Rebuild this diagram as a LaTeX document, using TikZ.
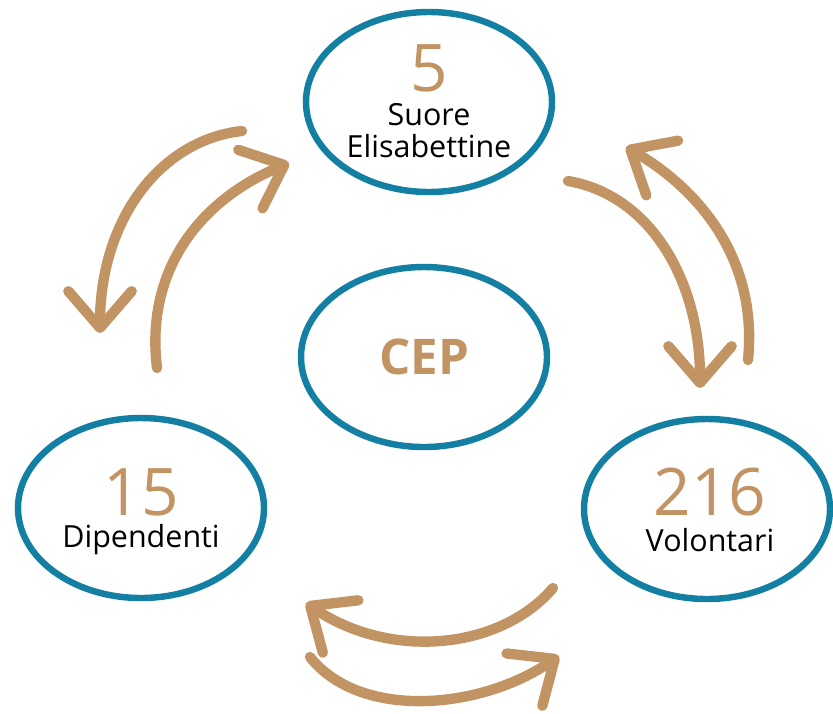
\documentclass[tikz,border=0pt]{standalone}
\usepackage{fontspec}
\setmainfont{Open Sans}
\usetikzlibrary{positioning, shapes, arrows.meta}

\definecolor{cepblue}{HTML}{137FA2}
\definecolor{cepbrown}{HTML}{C29363}

\begin{document}
\begin{tikzpicture}[
			x = 0.3mm,
			y = -0.3mm,
			group/.style = {ellipse, draw = cepblue, line width = 5.5pt, minimum width = 73.8mm, minimum height = 54mm},
			number/.style = {text = cepbrown, font = \fontsize{56}{56}\selectfont},
			caption/.style = {text = black, align = center, font = \fontsize{26}{27.5}\selectfont},
			flow/.style = {draw = cepbrown, line width = 3.1mm, line cap = round, -{Straight Barb[length=11mm, width=19mm, round]}}
		]
		\useasboundingbox (0,0) rectangle (833,713);

		% the four groups
		\node[group] (suore) at (429,102) {};
		\node[group] (cep) at (424,357) {};
		\node[group] (dipendenti) at (141,508) {};
		\node[group] (volontari) at (707,509) {};

		\node[number] (n5) at (429,68) {5};
		\node[caption] (suoretext) at (429,131) {Suore\\Elisabettine};
		\node[text = cepbrown, font = \fontsize{42}{42}\selectfont\bfseries] (ceptext) at (cep) {CEP};
		\node[number] (n15) at (141,492) {15};
		\node[caption] (diptext) at (141,540) {Dipendenti};
		\node[number] (n216) at (710,492) {216};
		\node[caption] (voltext) at (710,540) {Volontari};

		% ends of the arrows
		\coordinate (a1) at (242,131);
		\coordinate (a2) at (100,333);
		\coordinate (b1) at (157,368);
		\coordinate (b2) at (289,163);
		\coordinate (c1) at (568,181);
		\coordinate (c2) at (700,388);
		\coordinate (d1) at (748,360);
		\coordinate (d2) at (626,147);
		\coordinate (e1) at (553,588);
		\coordinate (e2) at (306,603);
		\coordinate (f1) at (310,657);
		\coordinate (f2) at (559,656);

		\draw[flow] (a1) .. controls (160,140) and (100,220) .. (a2);
		\draw[flow] (b1) .. controls (145,270) and (200,200) .. (b2);
		\draw[flow] (c1) .. controls (650,195) and (700,280) .. (c2);
		\draw[flow] (d1) .. controls (758,260) and (700,190) .. (d2);
		\draw[flow] (e1) .. controls (500,650) and (390,660) .. (e2);
		\draw[flow] (f1) .. controls (360,720) and (480,710) .. (f2);
	\end{tikzpicture}
\end{document}
